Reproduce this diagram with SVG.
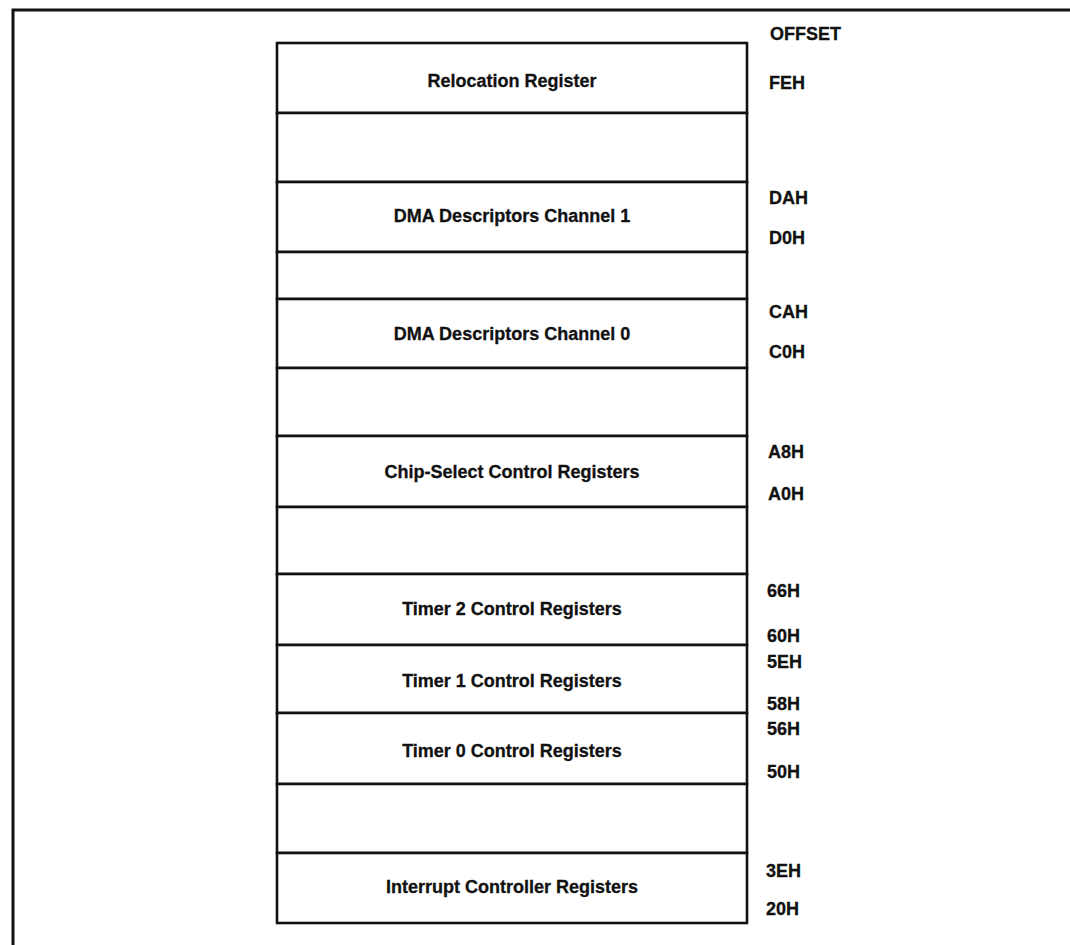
<svg xmlns="http://www.w3.org/2000/svg" width="1070" height="945" viewBox="0 0 1070 945">
<style>
.frame{fill:none;stroke:#111;stroke-width:3}
.cell{fill:#fff;stroke:#111;stroke-width:2.6}
.t{font-family:"Liberation Sans",Arial,sans-serif;font-weight:bold;font-size:18px;fill:#111;stroke:#111;stroke-width:0.3;text-anchor:middle}
.o{font-family:"Liberation Sans",Arial,sans-serif;font-weight:bold;font-size:18px;fill:#111;stroke:#111;stroke-width:0.3}
</style>
<rect width="1070" height="945" fill="#fff"/>
<path class="frame" d="M13,947 L13,10 L1072,10"/>
<g id="header"><text class="o" x="770" y="40">OFFSET</text></g>
<g id="relocation"><rect class="cell" x="277" y="43" width="470" height="70"/><text class="t" x="512" y="87">Relocation Register</text><text class="o" x="769" y="89">FEH</text></g>
<g id="gap1"><rect class="cell" x="277" y="113" width="470" height="69"/></g>
<g id="dma1"><rect class="cell" x="277" y="182" width="470" height="70"/><text class="t" x="512" y="222">DMA Descriptors Channel 1</text><text class="o" x="769" y="204">DAH</text><text class="o" x="769" y="244">D0H</text></g>
<g id="gap2"><rect class="cell" x="277" y="252" width="470" height="47"/></g>
<g id="dma0"><rect class="cell" x="277" y="299" width="470" height="69"/><text class="t" x="512" y="340">DMA Descriptors Channel 0</text><text class="o" x="769" y="318">CAH</text><text class="o" x="769" y="358">C0H</text></g>
<g id="gap3"><rect class="cell" x="277" y="368" width="470" height="68"/></g>
<g id="chipselect"><rect class="cell" x="277" y="436" width="470" height="71"/><text class="t" x="512" y="478">Chip-Select Control Registers</text><text class="o" x="768" y="458">A8H</text><text class="o" x="768" y="500">A0H</text></g>
<g id="gap4"><rect class="cell" x="277" y="507" width="470" height="67"/></g>
<g id="timer2"><rect class="cell" x="277" y="574" width="470" height="71"/><text class="t" x="512" y="615">Timer 2 Control Registers</text><text class="o" x="767" y="597">66H</text><text class="o" x="767" y="642">60H</text></g>
<g id="timer1"><rect class="cell" x="277" y="645" width="470" height="68"/><text class="t" x="512" y="687">Timer 1 Control Registers</text><text class="o" x="767" y="668">5EH</text><text class="o" x="767" y="710">58H</text></g>
<g id="timer0"><rect class="cell" x="277" y="713" width="470" height="71"/><text class="t" x="512" y="757">Timer 0 Control Registers</text><text class="o" x="767" y="735">56H</text><text class="o" x="767" y="778">50H</text></g>
<g id="gap5"><rect class="cell" x="277" y="784" width="470" height="69"/></g>
<g id="interrupt"><rect class="cell" x="277" y="853" width="470" height="70"/><text class="t" x="512" y="893">Interrupt Controller Registers</text><text class="o" x="766" y="877">3EH</text><text class="o" x="766" y="915">20H</text></g>
<g id="connectors"></g>
</svg>
